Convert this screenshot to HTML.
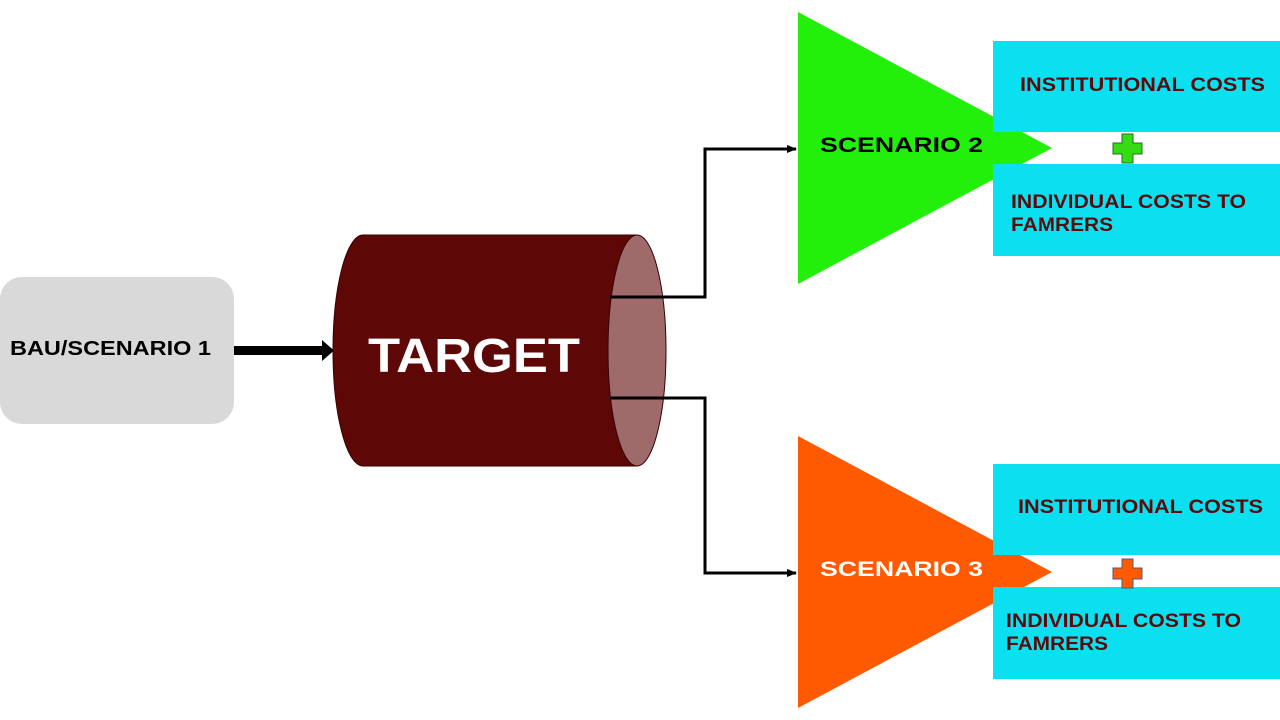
<!DOCTYPE html>
<html><head><meta charset="utf-8"><style>
body{margin:0;background:#fff;}
svg{display:block;font-family:"Liberation Sans",Arial,sans-serif;font-weight:bold;}
</style></head><body>
<svg width="1280" height="720" viewBox="0 0 1280 720" xmlns="http://www.w3.org/2000/svg">
<defs>
<marker id="a" markerWidth="10" markerHeight="10" refX="9" refY="5" orient="auto" markerUnits="userSpaceOnUse"><path d="M0,1 L10,5 L0,9 z" fill="#000"/></marker>
</defs>
<rect x="0" y="277" width="234" height="147" rx="22" fill="#d9d9d9"/>
<text x="10" y="355" font-size="20" fill="#000" textLength="201" lengthAdjust="spacingAndGlyphs">BAU/SCENARIO  1</text>
<rect x="234" y="346" width="90" height="9" fill="#000"/>
<path d="M322,340 L334,350.5 L322,361 z" fill="#000"/>
<path d="M363,235 L637,235 L637,466 L363,466 A30,115.5 0 0 1 363,235 z" fill="#5e0707" stroke="#3a0000" stroke-width="1"/>
<ellipse cx="637" cy="350.5" rx="29" ry="115.5" fill="#9e6a6a" stroke="#3a0000" stroke-width="1"/>
<text x="368" y="372" font-size="48" fill="#fff" textLength="212" lengthAdjust="spacingAndGlyphs">TARGET</text>
<polyline points="610,297 705,297 705,149 796,149" fill="none" stroke="#000" stroke-width="3" marker-end="url(#a)"/>
<polyline points="610,398 705,398 705,573 796,573" fill="none" stroke="#000" stroke-width="3" marker-end="url(#a)"/>
<polygon points="798,12 798,284 1052,148" fill="#22f00a"/>
<polygon points="798,436 798,708 1052,572" fill="#ff5a00"/>
<rect x="993" y="41" width="287" height="91" fill="#0ae0f0"/>
<rect x="993" y="164" width="287" height="92" fill="#0ae0f0"/>
<rect x="993" y="464" width="287" height="91" fill="#0ae0f0"/>
<rect x="993" y="587" width="287" height="92" fill="#0ae0f0"/>
<text x="820" y="152" font-size="21" fill="#000" textLength="163" lengthAdjust="spacingAndGlyphs">SCENARIO 2</text>
<text x="820" y="576" font-size="21" fill="#fff" textLength="163" lengthAdjust="spacingAndGlyphs">SCENARIO 3</text>
<g font-size="19" fill="#5a0a0a" lengthAdjust="spacingAndGlyphs">
<text x="1020" y="91" textLength="245" lengthAdjust="spacingAndGlyphs">INSTITUTIONAL COSTS</text>
<text x="1011" y="208" textLength="235" lengthAdjust="spacingAndGlyphs">INDIVIDUAL COSTS TO</text>
<text x="1011" y="231" textLength="102" lengthAdjust="spacingAndGlyphs">FAMRERS</text>
<text x="1018" y="513" textLength="245" lengthAdjust="spacingAndGlyphs">INSTITUTIONAL COSTS</text>
<text x="1006" y="627" textLength="235" lengthAdjust="spacingAndGlyphs">INDIVIDUAL COSTS TO</text>
<text x="1006" y="650" textLength="102" lengthAdjust="spacingAndGlyphs">FAMRERS</text>
</g>
<path d="M1122,134 h11 v9 h9 v11 h-9 v9 h-11 v-9 h-9 v-11 h9 z" fill="#33dd11" stroke="#2a6a2a" stroke-width="1"/>
<path d="M1122,559 h11 v9 h9 v11 h-9 v9 h-11 v-9 h-9 v-11 h9 z" fill="#ff5a00" stroke="#4a5a8a" stroke-width="1"/>
</svg>
</body></html>
